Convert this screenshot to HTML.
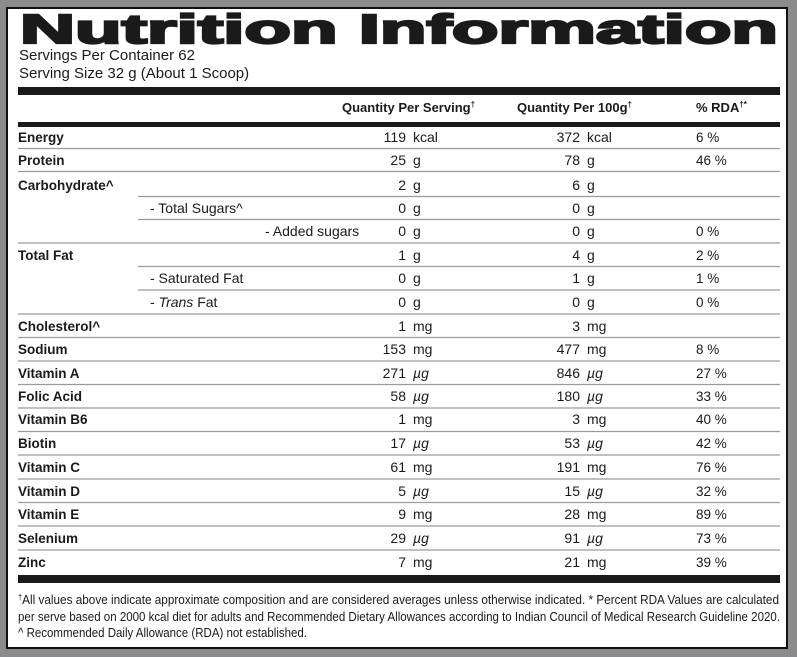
<!DOCTYPE html>
<html><head><meta charset="utf-8"><style>
html,body{margin:0;padding:0;background:#8a8b8d;}
svg{display:block;font-family:"Liberation Sans",Arial,sans-serif;}
</style></head><body>
<svg width="797" height="657" viewBox="0 0 797 657" xmlns="http://www.w3.org/2000/svg">
<rect x="0" y="0" width="797" height="657" fill="#8a8b8d"/>
<rect x="7" y="8" width="780" height="640" fill="#fff" stroke="#111" stroke-width="2"/>
<text x="20" y="43" font-size="41" font-weight="bold" textLength="758" lengthAdjust="spacingAndGlyphs" fill="#1a1a1a" stroke="#1a1a1a" stroke-width="2.2">Nutrition Information</text>
<g font-size="15" fill="#1a1a1a">
<text x="19" y="60">Servings Per Container 62</text>
<text x="19" y="78">Serving Size 32 g (About 1 Scoop)</text>
</g>
<rect x="18" y="87" width="762" height="8" fill="#1a1a1a"/>
<g font-size="13" font-weight="bold" fill="#1a1a1a">
<text x="342" y="112">Quantity Per Serving<tspan font-size="8" dy="-5">†</tspan></text>
<text x="517" y="112">Quantity Per 100g<tspan font-size="8" dy="-5">†</tspan></text>
<text x="696" y="112">% RDA<tspan font-size="8" dy="-5">†*</tspan></text>
</g>
<rect x="18" y="122" width="762" height="5" fill="#1a1a1a"/>
<g stroke="#9a9a9a" stroke-width="1.2">
<line x1="18" y1="148.5" x2="780" y2="148.5"/>
<line x1="18" y1="171.5" x2="780" y2="171.5"/>
<line x1="138" y1="196.5" x2="780" y2="196.5"/>
<line x1="138" y1="219.5" x2="780" y2="219.5"/>
<line x1="18" y1="243" x2="780" y2="243"/>
<line x1="138" y1="266.5" x2="780" y2="266.5"/>
<line x1="138" y1="290" x2="780" y2="290"/>
<line x1="18" y1="314" x2="780" y2="314"/>
<line x1="18" y1="337.5" x2="780" y2="337.5"/>
<line x1="18" y1="361" x2="780" y2="361"/>
<line x1="18" y1="384.5" x2="780" y2="384.5"/>
<line x1="18" y1="408" x2="780" y2="408"/>
<line x1="18" y1="431.5" x2="780" y2="431.5"/>
<line x1="18" y1="455" x2="780" y2="455"/>
<line x1="18" y1="479" x2="780" y2="479"/>
<line x1="18" y1="502.5" x2="780" y2="502.5"/>
<line x1="18" y1="526" x2="780" y2="526"/>
<line x1="18" y1="550" x2="780" y2="550"/>
</g>
<g font-size="13.5" font-weight="bold" fill="#1a1a1a">
<text x="18" y="142">Energy</text>
<text x="18" y="165">Protein</text>
<text x="18" y="190">Carbohydrate^</text>
<text x="18" y="260">Total Fat</text>
<text x="18" y="331">Cholesterol^</text>
<text x="18" y="354">Sodium</text>
<text x="18" y="378">Vitamin A</text>
<text x="18" y="401">Folic Acid</text>
<text x="18" y="424">Vitamin B6</text>
<text x="18" y="448">Biotin</text>
<text x="18" y="472">Vitamin C</text>
<text x="18" y="496">Vitamin D</text>
<text x="18" y="519">Vitamin E</text>
<text x="18" y="543">Selenium</text>
<text x="18" y="567">Zinc</text>
</g>
<g font-size="14" fill="#1a1a1a">
<text x="150" y="213">- Total Sugars^</text>
<text x="265" y="236">- Added sugars</text>
<text x="150" y="283">- Saturated Fat</text>
<text x="150" y="307">- <tspan font-style="italic">Trans</tspan> Fat</text>
</g>
<g font-size="14" fill="#1a1a1a" text-anchor="end">
<text x="406" y="142">119</text><text x="580" y="142">372</text>
<text x="406" y="165">25</text><text x="580" y="165">78</text>
<text x="406" y="190">2</text><text x="580" y="190">6</text>
<text x="406" y="213">0</text><text x="580" y="213">0</text>
<text x="406" y="236">0</text><text x="580" y="236">0</text>
<text x="406" y="260">1</text><text x="580" y="260">4</text>
<text x="406" y="283">0</text><text x="580" y="283">1</text>
<text x="406" y="307">0</text><text x="580" y="307">0</text>
<text x="406" y="331">1</text><text x="580" y="331">3</text>
<text x="406" y="354">153</text><text x="580" y="354">477</text>
<text x="406" y="378">271</text><text x="580" y="378">846</text>
<text x="406" y="401">58</text><text x="580" y="401">180</text>
<text x="406" y="424">1</text><text x="580" y="424">3</text>
<text x="406" y="448">17</text><text x="580" y="448">53</text>
<text x="406" y="472">61</text><text x="580" y="472">191</text>
<text x="406" y="496">5</text><text x="580" y="496">15</text>
<text x="406" y="519">9</text><text x="580" y="519">28</text>
<text x="406" y="543">29</text><text x="580" y="543">91</text>
<text x="406" y="567">7</text><text x="580" y="567">21</text>
</g>
<g font-size="14" fill="#1a1a1a">
<text x="413" y="142">kcal</text><text x="587" y="142">kcal</text>
<text x="413" y="165">g</text><text x="587" y="165">g</text>
<text x="413" y="190">g</text><text x="587" y="190">g</text>
<text x="413" y="213">g</text><text x="587" y="213">g</text>
<text x="413" y="236">g</text><text x="587" y="236">g</text>
<text x="413" y="260">g</text><text x="587" y="260">g</text>
<text x="413" y="283">g</text><text x="587" y="283">g</text>
<text x="413" y="307">g</text><text x="587" y="307">g</text>
<text x="413" y="331">mg</text><text x="587" y="331">mg</text>
<text x="413" y="354">mg</text><text x="587" y="354">mg</text>
<text x="413" y="378" font-style="italic">µg</text><text x="587" y="378" font-style="italic">µg</text>
<text x="413" y="401" font-style="italic">µg</text><text x="587" y="401" font-style="italic">µg</text>
<text x="413" y="424">mg</text><text x="587" y="424">mg</text>
<text x="413" y="448" font-style="italic">µg</text><text x="587" y="448" font-style="italic">µg</text>
<text x="413" y="472">mg</text><text x="587" y="472">mg</text>
<text x="413" y="496" font-style="italic">µg</text><text x="587" y="496" font-style="italic">µg</text>
<text x="413" y="519">mg</text><text x="587" y="519">mg</text>
<text x="413" y="543" font-style="italic">µg</text><text x="587" y="543" font-style="italic">µg</text>
<text x="413" y="567">mg</text><text x="587" y="567">mg</text>
</g>
<g font-size="13.5" fill="#1a1a1a">
<text x="696" y="142">6 %</text>
<text x="696" y="165">46 %</text>
<text x="696" y="236">0 %</text>
<text x="696" y="260">2 %</text>
<text x="696" y="283">1 %</text>
<text x="696" y="307">0 %</text>
<text x="696" y="354">8 %</text>
<text x="696" y="378">27 %</text>
<text x="696" y="401">33 %</text>
<text x="696" y="424">40 %</text>
<text x="696" y="448">42 %</text>
<text x="696" y="472">76 %</text>
<text x="696" y="496">32 %</text>
<text x="696" y="519">89 %</text>
<text x="696" y="543">73 %</text>
<text x="696" y="567">39 %</text>
</g>
<rect x="18" y="575" width="762" height="8" fill="#1a1a1a"/>
<g font-size="12.5" fill="#1a1a1a">
<text x="18" y="604" textLength="761" lengthAdjust="spacingAndGlyphs"><tspan font-size="8" dy="-4">†</tspan><tspan dy="4">All values above indicate approximate composition and are considered averages unless otherwise indicated. * Percent RDA Values are calculated</tspan></text>
<text x="18" y="621" textLength="762" lengthAdjust="spacingAndGlyphs">per serve based on 2000 kcal diet for adults and Recommended Dietary Allowances according to Indian Council of Medical Research Guideline 2020.</text>
<text x="18" y="637" textLength="289" lengthAdjust="spacingAndGlyphs">^ Recommended Daily Allowance (RDA) not established.</text>
</g>
</svg>
</body></html>
